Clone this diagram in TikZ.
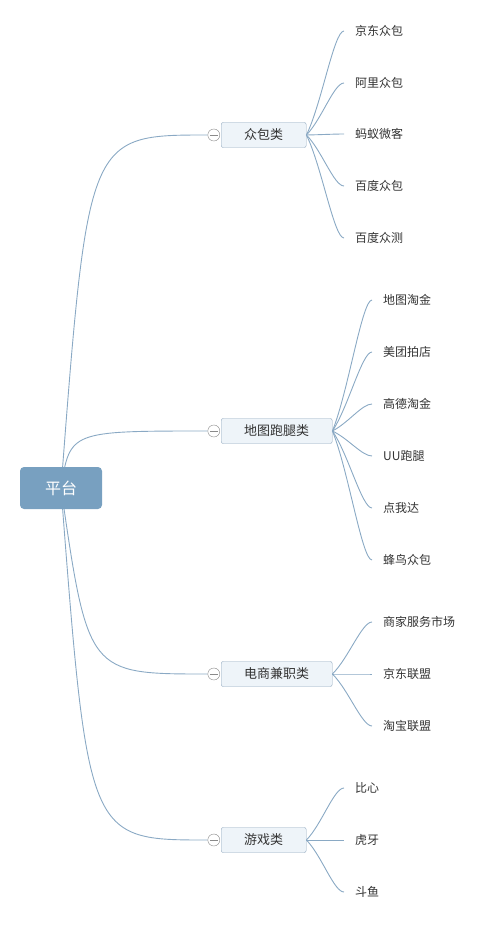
\documentclass[tikz,border=0pt]{standalone}
\usepackage{fontspec}
\setmainfont{Noto Sans CJK SC}
\usepackage{xcolor}
\usetikzlibrary{positioning,calc,backgrounds}
\definecolor{mmroot}{HTML}{78A0C0}
\definecolor{mmpale}{HTML}{EEF4F9}
\definecolor{mmframe}{HTML}{8FA7BD}
\definecolor{mmline}{HTML}{8AA9C4}
\definecolor{mmfold}{HTML}{8A8A8A}
\definecolor{mmtext}{HTML}{333333}

\begin{document}
\begin{tikzpicture}[
  x=1pt,y=-1pt,
  root/.style={fill=mmroot,rounded corners=4pt,minimum width=82pt,minimum height=42pt,text=white,font=\fontsize{16}{18}\selectfont},
  cat/.style={draw=mmframe,fill=mmpale,rounded corners=2pt,anchor=west,inner xsep=23pt,minimum height=25pt,text=mmtext,font=\fontsize{13}{15}\selectfont},
  leaf/.style={anchor=west,inner xsep=11pt,text=mmtext,font=\fontsize{12}{14}\selectfont},
  fold/.style={circle,draw=mmfold,fill=white,minimum size=12pt,inner sep=0pt,
    path picture={\draw[mmfold] ([xshift=-4pt]path picture bounding box.center) -- ([xshift=4pt]path picture bounding box.center);}},
  link/.style={draw=mmline,line width=0.9pt},
  twig/.style={link,to path={.. controls ($(\tikztostart)!0.3!(\tikztotarget)+(4,0)$) and ($(\tikztotarget)+(-10,0)$) .. (\tikztotarget)}}
]
\useasboundingbox (0,0) rectangle (485,925);

% root
\node[root] (pingtai) at (61,488) {平台};

% second level
\node[cat] (zhongbao) at (221,135) {众包类};
\node[fold,left=1pt of zhongbao] (zbfold) {};
\node[cat] (paotui) at (221,431) {地图跑腿类};
\node[fold,left=1pt of paotui] (ptfold) {};
\node[cat] (dianshang) at (221,674) {电商兼职类};
\node[fold,left=1pt of dianshang] (dsfold) {};
\node[cat] (youxi) at (221,840) {游戏类};
\node[fold,left=1pt of youxi] (yxfold) {};

\begin{pgfonlayer}{background}
\draw[link] (pingtai.center) .. controls ([xshift=27pt]pingtai.center |- zbfold) .. (zbfold.west);
\draw[link] (pingtai.center) .. controls ([xshift=9pt]pingtai.center |- ptfold) .. (ptfold.west);
\draw[link] (pingtai.center) .. controls ([xshift=27pt]pingtai.center |- dsfold) .. (dsfold.west);
\draw[link] (pingtai.center) .. controls ([xshift=27pt]pingtai.center |- yxfold) .. (yxfold.west);
\end{pgfonlayer}

% leaves of 众包类
\node[leaf] (jdzb) at (344,31) {京东众包};
\node[leaf] (alzb) at (344,83) {阿里众包};
\node[leaf] (mywk) at (344,134) {蚂蚁微客};
\node[leaf] (bdzb) at (344,186) {百度众包};
\node[leaf] (bdzc) at (344,238) {百度众测};
\draw[twig] (zhongbao.east) to (jdzb.west);
\draw[twig] (zhongbao.east) to (alzb.west);
\draw[twig] (zhongbao.east) to (mywk.west);
\draw[twig] (zhongbao.east) to (bdzb.west);
\draw[twig] (zhongbao.east) to (bdzc.west);

% leaves of 地图跑腿类
\node[leaf] (dttj) at (372,300) {地图淘金};
\node[leaf] (mtpd) at (372,352) {美团拍店};
\node[leaf] (gdtj) at (372,404) {高德淘金};
\node[leaf] (uupt) at (372,456) {UU跑腿};
\node[leaf] (dwd) at (372,508) {点我达};
\node[leaf] (fnzb) at (372,560) {蜂鸟众包};
\draw[twig] (paotui.east) to (dttj.west);
\draw[twig] (paotui.east) to (mtpd.west);
\draw[twig] (paotui.east) to (gdtj.west);
\draw[twig] (paotui.east) to (uupt.west);
\draw[twig] (paotui.east) to (dwd.west);
\draw[twig] (paotui.east) to (fnzb.west);

% leaves of 电商兼职类
\node[leaf] (sjfw) at (372,622) {商家服务市场};
\node[leaf] (jdlm) at (372,674) {京东联盟};
\node[leaf] (tblm) at (372,726) {淘宝联盟};
\draw[twig] (dianshang.east) to (sjfw.west);
\draw[twig] (dianshang.east) to (jdlm.west);
\draw[twig] (dianshang.east) to (tblm.west);

% leaves of 游戏类
\node[leaf] (bixin) at (344,788) {比心};
\node[leaf] (huya) at (344,840) {虎牙};
\node[leaf] (douyu) at (344,892) {斗鱼};
\draw[twig] (youxi.east) to (bixin.west);
\draw[twig] (youxi.east) to (huya.west);
\draw[twig] (youxi.east) to (douyu.west);
\end{tikzpicture}
\end{document}
